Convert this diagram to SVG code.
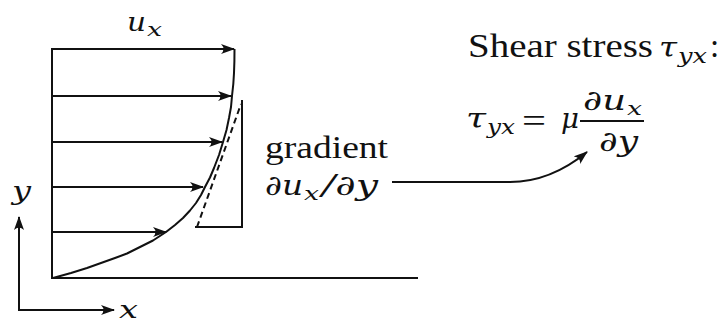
<svg xmlns="http://www.w3.org/2000/svg" width="721" height="323" viewBox="0 0 721 323">
<style>
.ln{stroke:#111;stroke-width:2;fill:none}
.ar{stroke:#111;stroke-width:2;fill:none;marker-end:url(#ah)}
.t{font-family:"Liberation Serif","DejaVu Serif",serif;fill:#111}
.m{font-family:"DejaVu Serif","Liberation Serif",serif;font-style:italic;fill:#111}
</style>
<defs>
<marker id="ah" viewBox="0 0 14 10" refX="13" refY="5" markerWidth="14" markerHeight="10" markerUnits="userSpaceOnUse" orient="auto">
<path d="M0,0 Q5,5 0,10 L14,5 Z" fill="#111"/>
</marker>
</defs>
<rect width="721" height="323" fill="#fff"/>
<g id="walls">
<path class="ln" d="M52,48 V278 H418"/>
</g>
<g id="profile">
<path class="ln" stroke-linejoin="round" d="M53,278 L71,273 L87,268 L101,263 L115,258 L127,253.5 L138,248 L153,240.5 L166,232 L175,225 L183,218 L190,210.5 L196,203 L201,195 L205,187 L210,177.5 L214,168 L219,155 L223,142 L226.5,130 L229,118 L231,107 L232,96 L233.3,84 L234,73 L234.4,61 L234.5,49"/>
</g>
<g id="velocity-arrows">
<path class="ar" d="M52,49 H234"/>
<path class="ar" d="M52,96 H231"/>
<path class="ar" d="M52,142 H222"/>
<path class="ar" d="M52,187 H203"/>
<path class="ar" d="M52,232 H166"/>
</g>
<g id="gradient-triangle">
<path class="ln" d="M195,227 H242 V100"/>
<path class="ln" stroke-dasharray="6,4" d="M197,227 L241,104"/>
</g>
<g id="axes">
<path class="ar" d="M19,311 V217"/>
<path class="ar" d="M18,310 H114"/>
<text class="m" x="12" y="200" font-size="26" textLength="19" lengthAdjust="spacingAndGlyphs">y</text>
<text class="m" x="119" y="318" font-size="25" textLength="19" lengthAdjust="spacingAndGlyphs">x</text>
</g>
<g id="ux-label">
<text class="m" x="127" y="31" font-size="26" textLength="19" lengthAdjust="spacingAndGlyphs">u</text>
<text class="m" x="147" y="36" font-size="19" textLength="15" lengthAdjust="spacingAndGlyphs">x</text>
</g>
<g id="gradient-label">
<text class="t" x="265" y="158" font-size="31" textLength="123" lengthAdjust="spacingAndGlyphs">gradient</text>
<text class="m" x="265" y="195" font-size="28" textLength="38" lengthAdjust="spacingAndGlyphs">∂u</text>
<text class="m" x="304" y="200" font-size="19" textLength="15" lengthAdjust="spacingAndGlyphs">x</text>
<text class="m" x="322" y="195" font-size="28" textLength="56" lengthAdjust="spacingAndGlyphs">/∂y</text>
</g>
<g id="connectors">
<path class="ar" d="M392,182 H510 C540,182 565,170 587,152"/>
</g>
<g id="shear-stress">
<text class="t" x="468" y="57" font-size="33" textLength="185" lengthAdjust="spacingAndGlyphs">Shear stress</text>
<text class="m" x="659" y="57" font-size="28" textLength="18" lengthAdjust="spacingAndGlyphs">τ</text>
<text class="m" x="678" y="63" font-size="20" textLength="29" lengthAdjust="spacingAndGlyphs">yx</text>
<text class="t" x="710" y="57" font-size="33">:</text>
</g>
<g id="formula">
<text class="m" x="466" y="128" font-size="28" textLength="20" lengthAdjust="spacingAndGlyphs">τ</text>
<text class="m" x="487" y="134" font-size="20" textLength="28" lengthAdjust="spacingAndGlyphs">yx</text>
<text class="t" x="522" y="132" font-size="33" textLength="24" lengthAdjust="spacingAndGlyphs">=</text>
<text class="m" x="561" y="128" font-size="28" textLength="18" lengthAdjust="spacingAndGlyphs">μ</text>
<path class="ln" d="M580,121 H644"/>
<text class="m" x="583" y="110" font-size="28" textLength="43" lengthAdjust="spacingAndGlyphs">∂u</text>
<text class="m" x="627" y="115" font-size="19" textLength="15" lengthAdjust="spacingAndGlyphs">x</text>
<text class="m" x="599" y="151" font-size="28" textLength="39" lengthAdjust="spacingAndGlyphs">∂y</text>
</g>
</svg>
